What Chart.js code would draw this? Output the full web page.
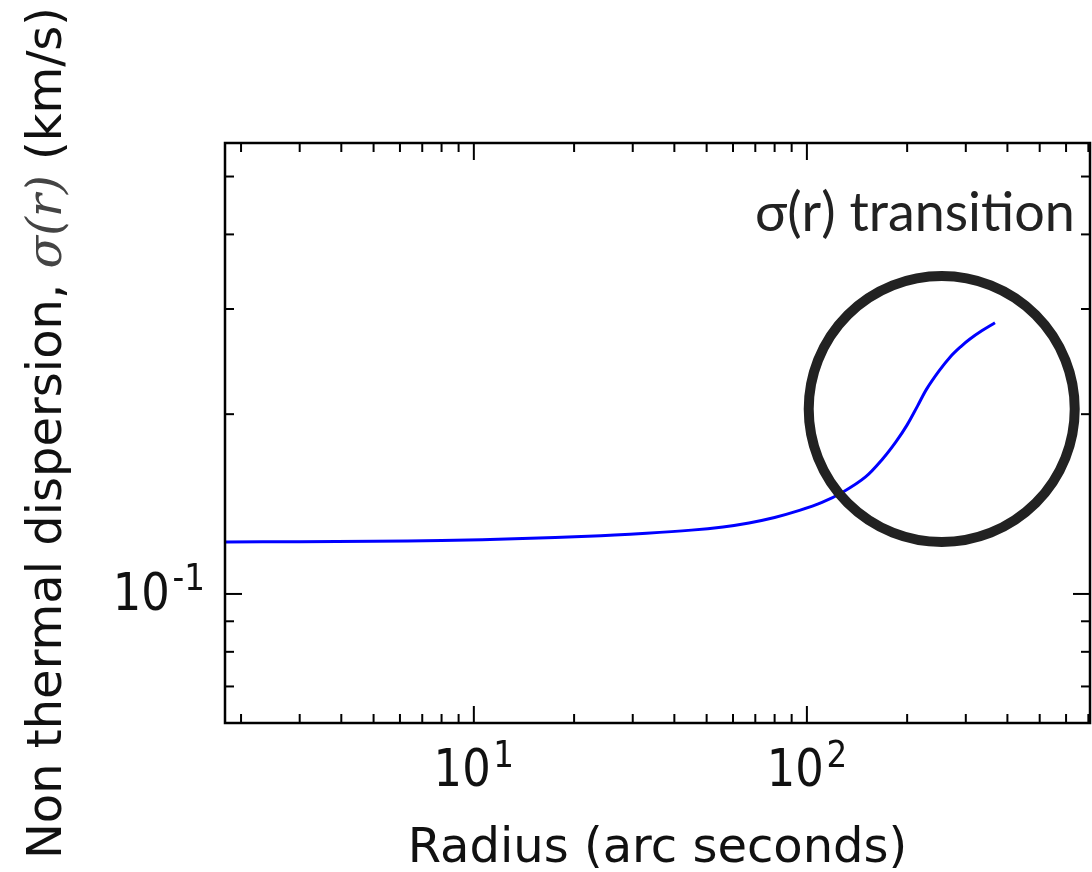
<!DOCTYPE html>
<html><head><meta charset="utf-8">
<script src="https://cdn.jsdelivr.net/npm/chart.js@4.4.1/dist/chart.umd.min.js"></script>
<style>html,body{margin:0;padding:0;background:#fff}canvas{display:block}</style>
</head><body>
<canvas id="c" width="1092" height="872"></canvas>
<script>
// ---- data ----
const radius = [1.8, 3, 5, 8, 14, 22, 33, 45, 56, 67, 80, 95, 111, 128, 150, 169, 185, 200, 215, 229, 250, 269, 290, 308, 335, 367];
const sigma  = [0.1222, 0.1223, 0.1225, 0.1229, 0.1238, 0.1249, 0.1264, 0.1279, 0.1295, 0.1315, 0.1343, 0.1380, 0.1423, 0.1480, 0.1570, 0.1684, 0.1797, 0.1919, 0.2065, 0.2205, 0.2368, 0.2492, 0.2596, 0.2670, 0.2758, 0.2845];
const xTickLabels = [{value: 10, base: '10', exp: '1'}, {value: 100, base: '10', exp: '2'}];
const yTickLabels = [{value: 0.1, base: '10', exp: '-1'}];
const xTitle = 'Radius (arc seconds)';
const yTitleParts = ['Non thermal dispersion, ', 'σ(r)', ' (km/s)'];
const annotationText = 'σ(r) transition';
const xRange = [1.79, 708];
const yRange = [0.0608, 0.569];
const circleCenter = {x: 254, y: 0.204};
const textAnchor = {x: 211, y: 0.405};

const points = radius.map((r, i) => ({x: r, y: sigma[i]}));

function decadeTicks(min, max) {
  const out = [];
  for (let e = Math.floor(Math.log10(min)) - 1; e <= Math.ceil(Math.log10(max)); e++) {
    for (let k = 1; k <= 9; k++) {
      const v = k * Math.pow(10, e);
      if (v > min * 1.0001 && v < max * 0.9999) out.push({v, major: k === 1});
    }
  }
  return out;
}

const decor = {
  id: 'decor',
  afterDatasetsDraw(chart) {
    const {ctx, chartArea: a, scales: {x, y}} = chart;
    ctx.save();
    const line = (x1, y1, x2, y2) => { ctx.beginPath(); ctx.moveTo(x1, y1); ctx.lineTo(x2, y2); ctx.stroke(); };
    // annotation circle (anchored to data coordinates)
    const cx = x.getPixelForValue(circleCenter.x), cy = y.getPixelForValue(circleCenter.y);
    ctx.strokeStyle = '#222'; ctx.lineWidth = 10;
    ctx.beginPath(); ctx.arc(cx, cy, 133, 0, Math.PI * 2); ctx.stroke();

    // frame
    ctx.strokeStyle = '#000'; ctx.lineWidth = 2.5;
    ctx.strokeRect(a.left, a.top, a.right - a.left, a.bottom - a.top);
    // ticks, inward, on all four sides
    ctx.lineWidth = 2;
    decadeTicks(x.min, x.max).forEach(t => {
      const p = x.getPixelForValue(t.v); const L = t.major ? 17 : 9;
      line(p, a.bottom, p, a.bottom - L); line(p, a.top, p, a.top + L);
    });
    decadeTicks(y.min, y.max).forEach(t => {
      const p = y.getPixelForValue(t.v); const L = t.major ? 17 : 9;
      line(a.left, p, a.left + L, p); line(a.right, p, a.right - L, p);
    });

    // tick labels 10^n (slightly condensed like the reference)
    ctx.fillStyle = '#111'; ctx.textBaseline = 'alphabetic';
    const bigF = '51px "DejaVu Sans"', supF = '37px "DejaVu Sans"';
    const sx = 0.88;
    const measure = (s, f) => { ctx.font = f; return ctx.measureText(s).width; };
    const drawLabel = (l, left, baseY, supY) => {
      const wb = measure(l.base, bigF);
      ctx.save(); ctx.translate(left, 0); ctx.scale(sx, 1);
      ctx.textAlign = 'left';
      ctx.font = bigF; ctx.fillText(l.base, 0, baseY);
      ctx.font = supF; ctx.fillText(l.exp, wb + 3, supY);
      ctx.restore();
    };
    xTickLabels.forEach(l => {
      const p = x.getPixelForValue(l.value);
      const w = (measure(l.base, bigF) + 3 + measure(l.exp, supF)) * sx;
      drawLabel(l, p - w / 2, a.bottom + 63, a.bottom + 44);
    });
    yTickLabels.forEach(l => {
      const p = y.getPixelForValue(l.value);
      const w = (measure(l.base, bigF) + 3 + measure(l.exp, supF)) * sx;
      drawLabel(l, a.left - 20 - w, p + 16, p - 4);
    });

    // x title
    ctx.fillStyle = '#111';
    ctx.font = '48px "DejaVu Sans"'; ctx.textAlign = 'center';
    ctx.fillText(xTitle, (a.left + a.right) / 2, a.bottom + 139);

    // y title (rotated, mixed fonts)
    const fonts = ['48px "DejaVu Sans"', 'italic 48px "DejaVu Serif"', '48px "DejaVu Sans"'];
    const widths = yTitleParts.map((s, i) => measure(s, fonts[i]));
    const total = widths.reduce((s, w) => s + w, 0);
    ctx.save();
    ctx.translate(61, (a.top + a.bottom) / 2);
    ctx.rotate(-Math.PI / 2);
    ctx.textAlign = 'left';
    let pos = -total / 2;
    yTitleParts.forEach((s, i) => {
      ctx.font = fonts[i];
      ctx.fillStyle = i === 1 ? '#444' : '#111';
      ctx.fillText(s, pos, 0);
      pos += widths[i];
    });
    ctx.restore();

    // annotation text
    ctx.fillStyle = '#222';
    let fs = 40; ctx.font = fs + 'px Lato';
    fs = fs * 320 / ctx.measureText(annotationText).width;
    ctx.font = fs.toFixed(1) + 'px Lato';
    ctx.textAlign = 'center';
    ctx.fillText(annotationText, x.getPixelForValue(textAnchor.x), y.getPixelForValue(textAnchor.y));
    ctx.restore();
  }
};

new Chart(document.getElementById('c'), {
  type: 'line',
  data: {datasets: [{
    data: points, borderColor: '#0000ff', borderWidth: 3, pointRadius: 0,
    fill: false, tension: 0.35
  }]},
  options: {
    responsive: false, animation: false, events: [],
    layout: {padding: {left: 225, right: 2, top: 143, bottom: 149}},
    plugins: {legend: {display: false}, tooltip: {enabled: false}},
    scales: {
      x: {type: 'logarithmic', min: xRange[0], max: xRange[1],
          ticks: {display: false}, grid: {display: false}, border: {display: false},
          afterFit: s => { s.height = 0; }},
      y: {type: 'logarithmic', min: yRange[0], max: yRange[1],
          ticks: {display: false}, grid: {display: false}, border: {display: false},
          afterFit: s => { s.width = 0; }}
    }
  },
  plugins: [decor]
});
</script>
</body></html>
